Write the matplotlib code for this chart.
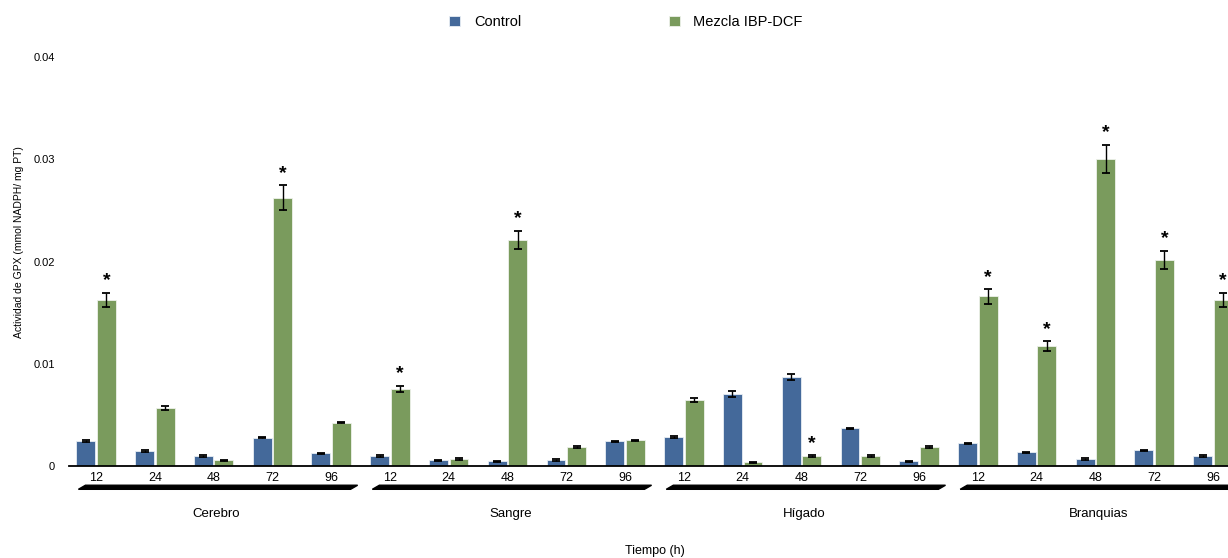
import numpy as np
import matplotlib
matplotlib.use("Agg")
import matplotlib.pyplot as plt
from matplotlib.patches import Polygon
import matplotlib.transforms as mtransforms

plt.rcParams["font.family"] = ["Liberation Sans", "DejaVu Sans"]

# =========================
# DATA
# =========================
tejidos = ["Cerebro", "Sangre", "Hígado", "Branquias"]
tiempos = ["12", "24", "48", "72", "96"]

control = [0.00244, 0.00147, 0.00100, 0.00277, 0.00124,
           0.00100, 0.00056, 0.00046, 0.00056, 0.00241,
           0.00283, 0.00704, 0.00870, 0.00368, 0.00046,
           0.00222, 0.00134, 0.00068, 0.00153, 0.00098]
control_err = [0.00008, 0.00008, 0.00008, 0.00008, 0.00008,
               0.00008, 0.00006, 0.00006, 0.00008, 0.00008,
               0.00008, 0.00025, 0.00025, 0.00008, 0.00006,
               0.00006, 0.00006, 0.00006, 0.00006, 0.00006]

mezcla = [0.01625, 0.00567, 0.00056, 0.02623, 0.00424,
          0.00753, 0.00068, 0.02210, 0.00186, 0.00251,
          0.00642, 0.00036, 0.00098, 0.00098, 0.00186,
          0.01658, 0.01170, 0.03001, 0.02017, 0.01626]
mezcla_err = [0.00068, 0.00020, 0.00006, 0.00124, 0.00008,
              0.00030, 0.00006, 0.00090, 0.00008, 0.00008,
              0.00020, 0.00006, 0.00006, 0.00006, 0.00006,
              0.00070, 0.00050, 0.00140, 0.00090, 0.00070]

# marcas de significancia (*) sobre la barra de mezcla
signif = [1, 0, 0, 1, 0,
          1, 0, 1, 0, 0,
          0, 0, 1, 0, 0,
          1, 1, 1, 1, 1]

AZUL = "#44699a"
VERDE = "#7a9b5d"

# =========================
# FIGURA
# =========================
fig = plt.figure(figsize=(12.28, 5.58), dpi=100)
# el eje se sale un poco por la derecha (como en el original)
ax = fig.add_axes([69 / 1228, 1 - 466 / 558, 1171 / 1228, 409 / 558])

x = np.arange(len(control))
w = 0.32
off = 0.175

ax.bar(x - off, control, w, color=AZUL, edgecolor="#e8eef4", linewidth=0.6,
       label="Control", zorder=2)
ax.bar(x + off, mezcla, w, color=VERDE, edgecolor="#eef2ea", linewidth=0.6,
       label="Mezcla IBP-DCF", zorder=2)
ax.errorbar(x - off, control, yerr=control_err, fmt="none", ecolor="black",
            elinewidth=1.0, capsize=3, capthick=1.3, zorder=3)
ax.errorbar(x + off, mezcla, yerr=mezcla_err, fmt="none", ecolor="black",
            elinewidth=1.0, capsize=3, capthick=1.3, zorder=3)

for i, s in enumerate(signif):
    if s:
        ax.annotate("*", (x[i] + off, mezcla[i] + mezcla_err[i]),
                    xytext=(0, 2.5), textcoords="offset points",
                    ha="center", va="bottom", fontsize=14, fontweight="bold")

ax.set_xlim(-0.46, 19.46)
ax.set_ylim(0, 0.04)
ax.set_yticks([0, 0.01, 0.02, 0.03, 0.04])
ax.set_yticklabels(["0", "0.01", "0.02", "0.03", "0.04"])
ax.set_xticks(x)
ax.set_xticklabels(tiempos * len(tejidos))
ax.tick_params(axis="y", length=0, pad=10, labelsize=8)
ax.tick_params(axis="x", length=0, pad=4.5, labelsize=9)

for sp in ["top", "right", "left"]:
    ax.spines[sp].set_visible(False)
ax.spines["bottom"].set_linewidth(1.3)

# llaves de grupo bajo el eje
trans = mtransforms.blended_transform_factory(ax.transData, ax.transAxes)
for g, nombre in enumerate(tejidos):
    a = 5 * g - 0.30
    b = 5 * g + 4.45
    yb, yt = -0.057, -0.047
    poly = Polygon([(a, yb), (b - 0.12, yb), (b, yt), (a + 0.12, yt)],
                   closed=True, transform=trans, color="black", clip_on=False)
    ax.add_patch(poly)
    ax.text(5 * g + 2.05, -0.118, nombre, transform=trans, ha="center",
            va="center", fontsize=9.5)

ax.text(0.5, -0.208, "Tiempo (h)", transform=ax.transAxes, ha="center",
        va="center", fontsize=9)

fig.text(19 / 1228, 1 - 242 / 558, "Actividad de GPX (mmol NADPH/ mg PT)",
         rotation=90, ha="center", va="center", fontsize=7.5)

fig.legend(loc="center", bbox_to_anchor=(626 / 1228, 1 - 22 / 558), ncol=2,
           frameon=False, fontsize=10.5, handlelength=0.75, handleheight=0.75,
           handletextpad=0.95, columnspacing=10.1)

fig.savefig("out.png", dpi=100)
